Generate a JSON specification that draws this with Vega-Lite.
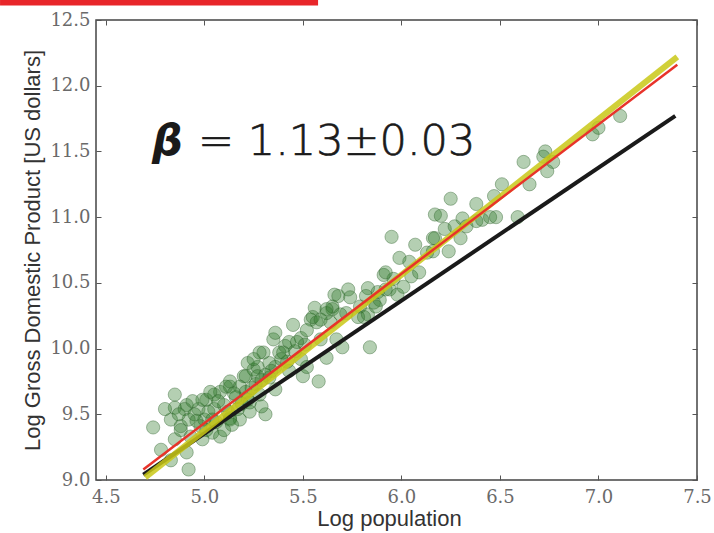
{
  "$schema": "https://vega.github.io/schema/vega-lite/v6.json",
  "width": 601,
  "height": 460,
  "autosize": "none",
  "padding": {"left": 96, "top": 20, "right": 17, "bottom": 53},
  "background": "white",
  "config": {
    "view": {"stroke": "#444444", "strokeWidth": 1.5},
    "axis": {"grid": false, "domain": false}
  },
  "datasets": {
    "cities": [
      {"x": 4.74, "y": 9.40}, {"x": 4.92, "y": 9.08}, {"x": 4.85, "y": 9.55}, {"x": 4.91, "y": 9.57},
      {"x": 4.97, "y": 9.54}, {"x": 5.01, "y": 9.61}, {"x": 5.08, "y": 9.67}, {"x": 5.13, "y": 9.71},
      {"x": 5.20, "y": 9.79}, {"x": 5.25, "y": 9.84}, {"x": 4.88, "y": 9.41}, {"x": 4.85, "y": 9.31},
      {"x": 4.99, "y": 9.31}, {"x": 5.04, "y": 9.36}, {"x": 5.13, "y": 9.47}, {"x": 5.17, "y": 9.54},
      {"x": 5.22, "y": 9.61}, {"x": 4.91, "y": 9.21}, {"x": 5.08, "y": 9.33}, {"x": 4.90, "y": 9.54},
      {"x": 4.99, "y": 9.61}, {"x": 5.05, "y": 9.65}, {"x": 5.11, "y": 9.71}, {"x": 5.21, "y": 9.79},
      {"x": 5.27, "y": 9.86}, {"x": 5.30, "y": 9.97}, {"x": 5.35, "y": 10.07}, {"x": 5.45, "y": 10.18},
      {"x": 5.56, "y": 10.31}, {"x": 5.65, "y": 10.30}, {"x": 5.84, "y": 10.01}, {"x": 5.58, "y": 9.75},
      {"x": 5.31, "y": 9.50}, {"x": 5.29, "y": 9.56}, {"x": 5.23, "y": 9.59}, {"x": 5.18, "y": 9.46},
      {"x": 5.41, "y": 10.02}, {"x": 5.54, "y": 10.22}, {"x": 5.64, "y": 10.20}, {"x": 5.72, "y": 10.27},
      {"x": 5.81, "y": 10.24}, {"x": 5.67, "y": 10.07}, {"x": 5.70, "y": 10.01}, {"x": 5.01, "y": 9.38},
      {"x": 5.10, "y": 9.38}, {"x": 5.13, "y": 9.46}, {"x": 4.92, "y": 9.46}, {"x": 4.88, "y": 9.38},
      {"x": 5.66, "y": 10.41}, {"x": 5.62, "y": 10.27}, {"x": 5.57, "y": 10.20}, {"x": 5.43, "y": 10.05},
      {"x": 5.49, "y": 10.08}, {"x": 5.28, "y": 9.97}, {"x": 5.38, "y": 9.97}, {"x": 5.42, "y": 9.90},
      {"x": 5.22, "y": 9.89}, {"x": 5.33, "y": 9.89}, {"x": 5.27, "y": 9.79}, {"x": 5.33, "y": 9.78},
      {"x": 5.13, "y": 9.75}, {"x": 5.18, "y": 9.71}, {"x": 5.03, "y": 9.67}, {"x": 5.50, "y": 9.79},
      {"x": 5.62, "y": 9.93}, {"x": 5.52, "y": 9.86}, {"x": 5.95, "y": 10.85}, {"x": 6.07, "y": 10.79},
      {"x": 6.17, "y": 11.02}, {"x": 6.17, "y": 10.84}, {"x": 5.99, "y": 10.69}, {"x": 6.04, "y": 10.66},
      {"x": 6.13, "y": 10.73}, {"x": 6.05, "y": 10.55}, {"x": 5.91, "y": 10.56}, {"x": 5.96, "y": 10.53},
      {"x": 5.83, "y": 10.46}, {"x": 5.88, "y": 10.43}, {"x": 5.94, "y": 10.45}, {"x": 5.98, "y": 10.41},
      {"x": 5.73, "y": 10.45}, {"x": 5.68, "y": 10.40}, {"x": 5.74, "y": 10.39}, {"x": 5.82, "y": 10.40},
      {"x": 5.65, "y": 10.32}, {"x": 5.62, "y": 10.30}, {"x": 5.79, "y": 10.32}, {"x": 5.86, "y": 10.35},
      {"x": 5.89, "y": 10.37}, {"x": 5.78, "y": 10.24}, {"x": 5.69, "y": 10.26}, {"x": 5.55, "y": 10.24},
      {"x": 5.83, "y": 10.26}, {"x": 5.59, "y": 10.22}, {"x": 6.25, "y": 11.14}, {"x": 6.20, "y": 11.01},
      {"x": 6.38, "y": 11.10}, {"x": 6.31, "y": 10.99}, {"x": 6.45, "y": 11.00}, {"x": 6.47, "y": 11.16},
      {"x": 6.51, "y": 11.25}, {"x": 6.59, "y": 11.00}, {"x": 6.62, "y": 11.42}, {"x": 6.65, "y": 11.25},
      {"x": 6.73, "y": 11.50}, {"x": 6.74, "y": 11.35}, {"x": 6.77, "y": 11.42}, {"x": 6.22, "y": 10.91},
      {"x": 6.27, "y": 10.93}, {"x": 6.33, "y": 10.93}, {"x": 6.38, "y": 10.97}, {"x": 6.41, "y": 10.98},
      {"x": 6.16, "y": 10.84}, {"x": 6.97, "y": 11.63}, {"x": 7.00, "y": 11.68}, {"x": 7.11, "y": 11.77},
      {"x": 6.72, "y": 11.46}, {"x": 6.01, "y": 10.47}, {"x": 5.92, "y": 10.58}, {"x": 6.09, "y": 10.58},
      {"x": 6.16, "y": 10.74}, {"x": 6.24, "y": 10.74}, {"x": 6.30, "y": 10.84}, {"x": 6.48, "y": 11.00},
      {"x": 5.87, "y": 10.32}, {"x": 5.92, "y": 10.45}, {"x": 4.95, "y": 9.50}, {"x": 5.00, "y": 9.46},
      {"x": 5.05, "y": 9.54}, {"x": 5.10, "y": 9.57}, {"x": 5.16, "y": 9.63}, {"x": 5.21, "y": 9.67},
      {"x": 5.26, "y": 9.73}, {"x": 5.31, "y": 9.80}, {"x": 5.36, "y": 9.86}, {"x": 5.39, "y": 9.92},
      {"x": 5.46, "y": 9.98}, {"x": 5.51, "y": 10.03}, {"x": 4.98, "y": 9.41}, {"x": 4.93, "y": 9.33},
      {"x": 4.83, "y": 9.46}, {"x": 4.80, "y": 9.54}, {"x": 5.04, "y": 9.46}, {"x": 5.23, "y": 9.52},
      {"x": 5.36, "y": 9.69}, {"x": 5.43, "y": 9.83}, {"x": 5.49, "y": 9.92}, {"x": 5.59, "y": 10.07},
      {"x": 5.28, "y": 9.65}, {"x": 4.85, "y": 9.65}, {"x": 4.78, "y": 9.23}, {"x": 4.83, "y": 9.15},
      {"x": 4.87, "y": 9.50}, {"x": 4.94, "y": 9.60}, {"x": 5.02, "y": 9.52}, {"x": 5.07, "y": 9.60},
      {"x": 5.12, "y": 9.52}, {"x": 5.15, "y": 9.66}, {"x": 5.19, "y": 9.58}, {"x": 5.24, "y": 9.70},
      {"x": 5.29, "y": 9.76}, {"x": 5.34, "y": 9.83}, {"x": 5.06, "y": 9.44}, {"x": 4.96, "y": 9.45},
      {"x": 5.14, "y": 9.42}, {"x": 5.25, "y": 9.92}, {"x": 5.40, "y": 9.97}, {"x": 5.47, "y": 10.05},
      {"x": 5.36, "y": 10.12}, {"x": 5.52, "y": 10.14}
    ],
    "linear": [{"x": 4.69, "y": 9.04}, {"x": 7.39, "y": 11.77}],
    "fit": [{"x": 4.70, "y": 9.02}, {"x": 7.40, "y": 12.22}],
    "powerlaw": [{"x": 4.69, "y": 9.08}, {"x": 7.40, "y": 12.16}],
    "beta": [{"x": 4.734, "y": 11.476, "label": "β"}],
    "value": [{"x": 4.968, "y": 11.476, "label": "= 1.13±0.03"}],
    "band": [{"x": 3.963, "x2": 5.577, "y": 12.656, "y2": 12.61}]
  },
  "resolve": {"axis": {"x": "independent", "y": "independent"}},
  "layer": [
    {
      "data": {"name": "cities"},
      "mark": {"type": "point", "filled": true, "size": 175, "fill": "#2e7a2a", "fillOpacity": 0.36, "stroke": "#2a5f28", "strokeOpacity": 0.4, "strokeWidth": 1},
      "encoding": {
        "x": {"field": "x", "type": "quantitative",
              "scale": {"domain": [4.45, 7.5], "nice": false, "zero": false},
              "axis": {"orient": "bottom", "title": "Log population", "values": [4.5, 5.0, 5.5, 6.0, 6.5, 7.0, 7.5], "format": ".1f",
                       "labelFont": "DejaVu Serif", "labelFontSize": 18, "labelColor": "#6a6a6a", "labelFlush": false,
                       "tickSize": -5, "tickColor": "#555555", "tickWidth": 1, "labelPadding": 13,
                       "titleFont": "Liberation Sans", "titleFontSize": 22, "titleFontWeight": "normal", "titleColor": "#333333", "titlePadding": 2, "titleX": 293}},
        "y": {"field": "y", "type": "quantitative",
              "scale": {"domain": [9.0, 12.5], "nice": false, "zero": false},
              "axis": {"orient": "left", "title": "Log Gross Domestic Product [US dollars]", "values": [9.0, 9.5, 10.0, 10.5, 11.0, 11.5, 12.0, 12.5], "format": ".1f",
                       "labelFont": "DejaVu Serif", "labelFontSize": 18, "labelColor": "#6a6a6a", "labelFlush": false,
                       "tickSize": -5, "tickColor": "#555555", "tickWidth": 1, "labelPadding": 11,
                       "titleFont": "Liberation Sans", "titleFontSize": 22, "titleFontWeight": "normal", "titleColor": "#333333", "titlePadding": 5}}
      }
    },
    {
      "data": {"name": "linear"},
      "mark": {"type": "line", "color": "#1a1a1a", "strokeWidth": 4},
      "encoding": {
        "x": {"field": "x", "type": "quantitative",
              "axis": {"orient": "top", "title": null, "labels": false, "values": [4.5, 5.0, 5.5, 6.0, 6.5, 7.0, 7.5], "tickSize": -5, "tickColor": "#555555"}},
        "y": {"field": "y", "type": "quantitative",
              "axis": {"orient": "right", "title": null, "labels": false, "values": [9.0, 9.5, 10.0, 10.5, 11.0, 11.5, 12.0, 12.5], "tickSize": -5, "tickColor": "#555555"}}
      }
    },
    {
      "data": {"name": "fit"},
      "mark": {"type": "line", "color": "#c9c816", "strokeWidth": 6, "opacity": 0.85},
      "encoding": {
        "x": {"field": "x", "type": "quantitative", "axis": null},
        "y": {"field": "y", "type": "quantitative", "axis": null}
      }
    },
    {
      "data": {"name": "powerlaw"},
      "mark": {"type": "line", "color": "#e8332a", "strokeWidth": 2.5},
      "encoding": {
        "x": {"field": "x", "type": "quantitative", "axis": null},
        "y": {"field": "y", "type": "quantitative", "axis": null}
      }
    },
    {
      "data": {"name": "beta"},
      "mark": {"type": "text", "font": "DejaVu Sans", "fontSize": 43, "fontStyle": "italic", "fontWeight": "bold", "align": "left", "baseline": "alphabetic", "color": "#1a1a1a"},
      "encoding": {
        "x": {"field": "x", "type": "quantitative", "axis": null},
        "y": {"field": "y", "type": "quantitative", "axis": null},
        "text": {"field": "label"}
      }
    },
    {
      "data": {"name": "value"},
      "mark": {"type": "text", "font": "DejaVu Sans", "fontSize": 43, "fontWeight": 200, "align": "left", "baseline": "alphabetic", "color": "#1a1a1a", "stroke": "#1a1a1a", "strokeWidth": 0.7},
      "encoding": {
        "x": {"field": "x", "type": "quantitative", "axis": null},
        "y": {"field": "y", "type": "quantitative", "axis": null},
        "text": {"field": "label"}
      }
    },
    {
      "data": {"name": "band"},
      "mark": {"type": "rect", "color": "#e8262a", "clip": false},
      "encoding": {
        "x": {"field": "x", "type": "quantitative", "axis": null},
        "x2": {"field": "x2"},
        "y": {"field": "y", "type": "quantitative", "axis": null},
        "y2": {"field": "y2"}
      }
    }
  ]
}
